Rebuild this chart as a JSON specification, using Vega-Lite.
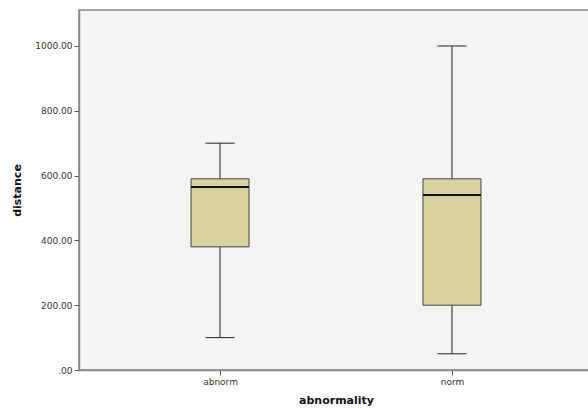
{
  "$schema": "https://vega.github.io/schema/vega-lite/v6.json",
  "width": 514,
  "height": 360,
  "autosize": {"type": "none"},
  "padding": {"left": 79, "top": 10, "right": 0, "bottom": 39},
  "background": "#ffffff",
  "data": {
    "values": [
      {"abnormality": "abnorm", "min": 100, "q1": 380, "median": 565, "q3": 590, "max": 700},
      {"abnormality": "norm", "min": 50, "q1": 200, "median": 540, "q3": 590, "max": 1000}
    ]
  },
  "encoding": {
    "x": {
      "field": "abnormality",
      "type": "nominal",
      "scale": {"type": "point", "padding": 0.608},
      "axis": {
        "title": "abnormality",
        "labelAngle": 0,
        "labelFont": "DejaVu Sans",
        "labelFontSize": 9,
        "labelColor": "#333333",
        "tickSize": 5,
        "tickColor": "#555555",
        "domainColor": "#888888",
        "domainWidth": 1.5,
        "labelPadding": 2,
        "titleFont": "DejaVu Sans",
        "titleFontSize": 11,
        "titleFontWeight": "bold",
        "titleColor": "#111111",
        "titlePadding": 8
      }
    }
  },
  "layer": [
    {
      "mark": {"type": "rule", "color": "#222222", "strokeWidth": 1},
      "encoding": {
        "y": {
          "field": "min",
          "type": "quantitative",
          "scale": {"domain": [0, 1111], "nice": false, "zero": false},
          "axis": {
            "title": "distance",
            "values": [0, 200, 400, 600, 800, 1000],
            "labelExpr": "datum.value == 0 ? '.00' : format(datum.value, '.2f')",
            "grid": false,
            "labelFont": "DejaVu Sans",
            "labelFontSize": 9,
            "labelColor": "#333333",
            "tickSize": 5,
            "tickColor": "#555555",
            "domainColor": "#888888",
            "domainWidth": 1.5,
            "labelPadding": 2,
            "titleFont": "DejaVu Sans",
            "titleFontSize": 11,
            "titleFontWeight": "bold",
            "titleColor": "#111111",
            "titlePadding": 12
          }
        },
        "y2": {"field": "max"}
      }
    },
    {
      "mark": {"type": "bar", "size": 58, "fill": "#d8d39e", "stroke": "#444444", "strokeWidth": 1},
      "encoding": {
        "y": {"field": "q1", "type": "quantitative"},
        "y2": {"field": "q3"}
      }
    },
    {
      "mark": {"type": "tick", "size": 58, "thickness": 2, "color": "#111111", "opacity": 1},
      "encoding": {"y": {"field": "median", "type": "quantitative"}}
    },
    {
      "mark": {"type": "tick", "size": 29, "thickness": 1, "color": "#222222", "opacity": 1},
      "encoding": {"y": {"field": "min", "type": "quantitative"}}
    },
    {
      "mark": {"type": "tick", "size": 29, "thickness": 1, "color": "#222222", "opacity": 1},
      "encoding": {"y": {"field": "max", "type": "quantitative"}}
    }
  ],
  "config": {
    "view": {"fill": "#f4f4f4", "stroke": "#888888", "strokeWidth": 1.5}
  }
}
